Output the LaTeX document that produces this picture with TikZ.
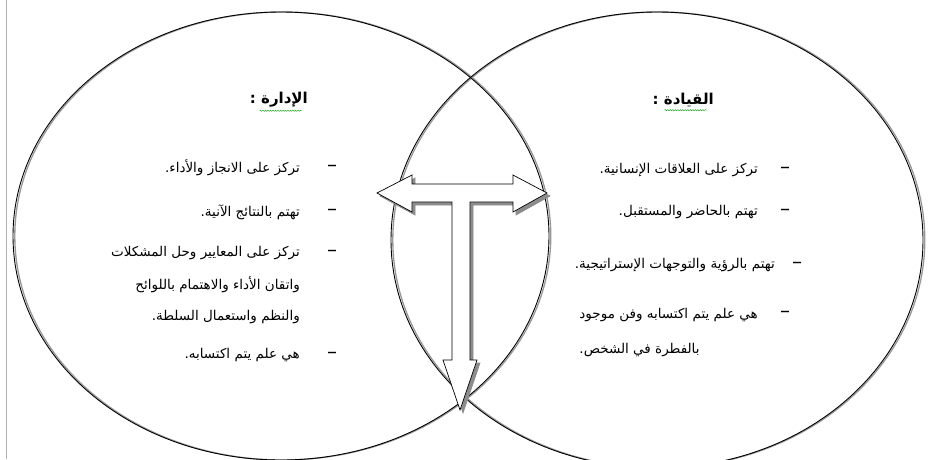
\documentclass[tikz,border=0pt]{standalone}
\usepackage{fontspec}
\newfontfamily\arabicfont[Script=Arabic]{DejaVu Sans}
\TeXXeTstate=1
\usetikzlibrary{decorations.pathmorphing}
\tikzset{
  ar/.style={font=\arabicfont\fontsize{13.5}{15}\selectfont, inner sep=0pt, anchor=east},
  arhead/.style={font=\arabicfont\bfseries\fontsize{15}{17}\selectfont, inner sep=0pt, anchor=east},
  dashmark/.style={font=\arabicfont\fontsize{20}{20}\selectfont, inner sep=0pt},
  shadowline/.style={draw=black!40, line width=1.3pt},
  mainline/.style={draw=black, line width=0.9pt},
  blockarrow/.style={draw=black, line width=0.7pt, fill=white, line join=miter},
  blockshadow/.style={fill=black!45, draw=black!45, line width=0.7pt},
  squiggle/.style={draw=green!60!black, line width=0.4pt, decorate, decoration={snake, amplitude=0.6pt, segment length=2.5pt}}
}
\begin{document}
\begin{tikzpicture}[x=1pt, y=-1pt]
\useasboundingbox (0,0) rectangle (930,459);
\fill[white] (0,0) rectangle (930,459);
% page edge
\draw[black!30, line width=0.6pt] (6,0) -- (6,459);
% ellipses with shadows
\coordinate (cl) at (281,236);
\coordinate (cr) at (657,240);
\draw[shadowline] ([xshift=1.8pt]cl) ellipse [x radius=268pt, y radius=224pt];
\draw[shadowline] ([xshift=1.8pt]cr) ellipse [x radius=266pt, y radius=228pt];
\draw[mainline] (cl) ellipse [x radius=268pt, y radius=224pt];
\draw[mainline] (cr) ellipse [x radius=266pt, y radius=228pt];
% T-shaped block arrow (shadow then shape)
\def\tarrow{(377,193) -- (412,175) -- (412,184) -- (513,184) -- (513,175) -- (547,193) -- (513,212) -- (513,202) -- (470,202) -- (470,360) -- (477,360) -- (460,410) -- (443,360) -- (452,360) -- (452,202) -- (412,202) -- (412,212) -- cycle}
\begin{scope}[shift={(3,3)}]
\path[blockshadow] \tarrow;
\end{scope}
\path[blockarrow] \tarrow;
% headings
\node[arhead] (hl) at (308,100) {\beginR الإدارة :\endR};
\node[arhead] (hr) at (714,100) {\beginR القيادة :\endR};
\draw[squiggle] ([yshift=-3pt]hl.south west) ++(10,0) -- ++(42,0);
\draw[squiggle] ([yshift=-3pt]hr.south west) ++(12,0) -- ++(42,0);
% left items
\node[dashmark] (dl1) at (332,168) {–};
\node[ar] (l1) at (300,168) {\beginR تركز على الانجاز  والأداء.\endR};
\node[dashmark] (dl2) at (332,212) {–};
\node[ar] (l2) at (300,212) {\beginR تهتم بالنتائج الآنية.\endR};
\node[dashmark] (dl3) at (332,253) {–};
\node[ar] (l3a) at (300,253) {\beginR تركز على المعايير وحل المشكلات\endR};
\node[ar] (l3b) at (300,285) {\beginR واتقان الأداء  والاهتمام باللوائح\endR};
\node[ar] (l3c) at (300,317) {\beginR والنظم  واستعمال السلطة.\endR};
\node[dashmark] (dl4) at (332,355) {–};
\node[ar] (l4) at (300,355) {\beginR هي علم يتم اكتسابه.\endR};
% right items
\node[dashmark] (dr1) at (785,170) {–};
\node[ar] (r1) at (758,170) {\beginR تركز على العلاقات الإنسانية.\endR};
\node[dashmark] (dr2) at (785,212) {–};
\node[ar] (r2) at (758,212) {\beginR تهتم بالحاضر والمستقبل.\endR};
\node[dashmark] (dr3) at (797,265) {–};
\node[ar] (r3) at (775,265) {\beginR تهتم بالرؤية والتوجهات الإستراتيجية.\endR};
\node[dashmark] (dr4) at (785,314) {–};
\node[ar] (r4a) at (758,315) {\beginR هي علم يتم اكتسابه وفن موجود\endR};
\node[ar, anchor=west] (r4b) at ([yshift=-35pt]r4a.west) {\beginR بالفطرة في الشخص.\endR};
\end{tikzpicture}
\end{document}
